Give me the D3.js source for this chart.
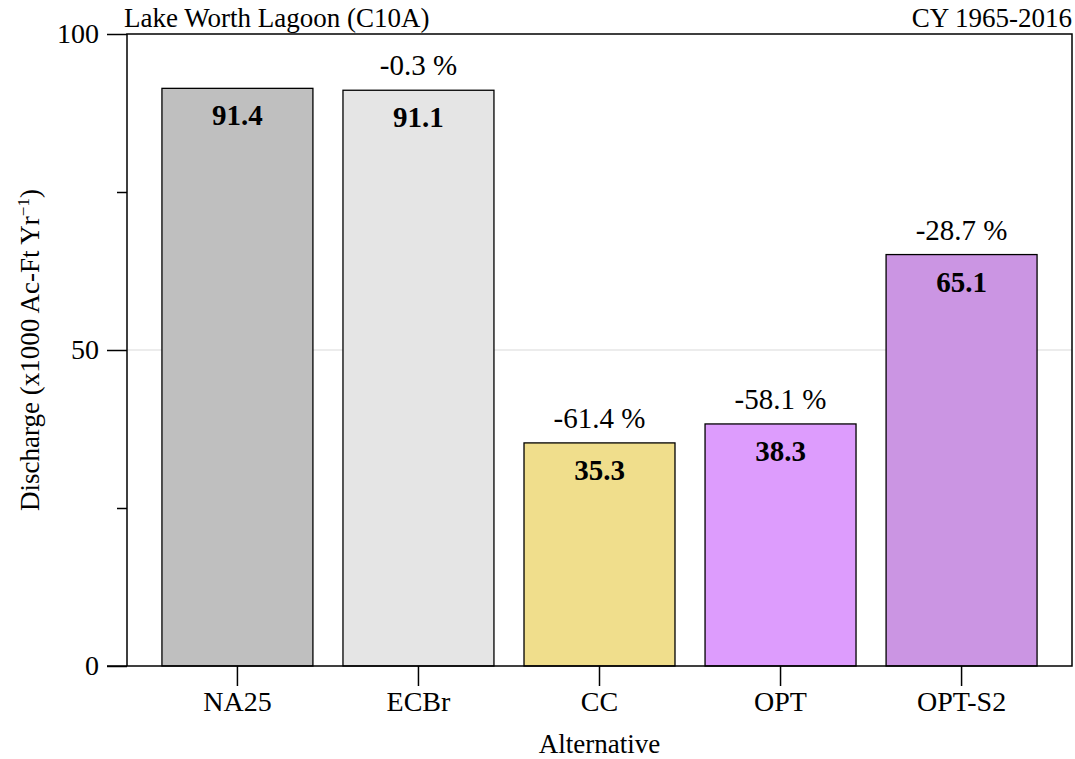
<!DOCTYPE html>
<html>
<head>
<meta charset="utf-8">
<script src="https://cdn.jsdelivr.net/npm/d3@7"></script>
<style>
  body { margin: 0; background: #fff; }
  text { font-family: "Liberation Serif", "Times New Roman", serif; fill: #000; }
</style>
</head>
<body>
<div id="chart"></div>
<script>
let svgWidth = 1075;
let svgHeight = 759;

let margin = { top: 34, right: 3, bottom: 93, left: 127 };
let width = svgWidth - margin.left - margin.right;
let height = svgHeight - margin.top - margin.bottom;

// data
let alternatives = ["NA25", "ECBr", "CC", "OPT", "OPT-S2"];
let discharge = [91.4, 91.1, 35.3, 38.3, 65.1];
let pctChange = [null, "-0.3 %", "-61.4 %", "-58.1 %", "-28.7 %"];
let barColors = ["#bfbfbf", "#e5e5e5", "#f0de8c", "#dd9cfd", "#cb95e3"];
let majorTicks = [0, 50, 100];
let minorTicks = [25, 75];

let svg = d3.select("#chart")
  .append("svg")
  .attr("width", svgWidth)
  .attr("height", svgHeight);

let chartGroup = svg.append("g")
  .attr("transform", `translate(${margin.left}, ${margin.top})`);

let xScale = d3.scaleBand()
  .domain(alternatives)
  .range([0, width])
  .paddingInner(0.166)
  .paddingOuter(0.193);

let yScale = d3.scaleLinear()
  .domain([0, 100])
  .range([height, 0]);

// gridline at 50
chartGroup.append("line")
  .attr("x1", 0).attr("x2", width)
  .attr("y1", yScale(50)).attr("y2", yScale(50))
  .attr("stroke", "#d9d9d9")
  .attr("stroke-width", 1);

let rows = alternatives.map((a, i) => ({ alt: a, val: discharge[i], pct: pctChange[i], color: barColors[i] }));

// bars
chartGroup.selectAll("rect.bar")
  .data(rows)
  .enter()
  .append("rect")
  .attr("class", "bar")
  .attr("x", d => xScale(d.alt))
  .attr("y", d => yScale(d.val))
  .attr("width", xScale.bandwidth())
  .attr("height", d => height - yScale(d.val))
  .attr("fill", d => d.color)
  .attr("stroke", "#000")
  .attr("stroke-width", 1.3);

// value labels inside bars
chartGroup.selectAll("text.val")
  .data(rows)
  .enter()
  .append("text")
  .attr("class", "val")
  .attr("x", d => xScale(d.alt) + xScale.bandwidth() / 2)
  .attr("y", d => yScale(d.val) + 37)
  .attr("text-anchor", "middle")
  .style("font-size", "29px")
  .style("font-weight", "bold")
  .text(d => d.val.toFixed(1));

// percent change labels above bars
chartGroup.selectAll("text.pct")
  .data(rows.filter(d => d.pct))
  .enter()
  .append("text")
  .attr("class", "pct")
  .attr("x", d => xScale(d.alt) + xScale.bandwidth() / 2)
  .attr("y", d => yScale(d.val) - 15)
  .attr("text-anchor", "middle")
  .style("font-size", "29px")
  .text(d => d.pct);

// plot box
chartGroup.append("rect")
  .attr("x", 0).attr("y", 0)
  .attr("width", width).attr("height", height)
  .attr("fill", "none")
  .attr("stroke", "#000")
  .attr("stroke-width", 1.5);

// y axis
let yAxis = chartGroup.append("g")
  .call(d3.axisLeft(yScale).tickValues(majorTicks).tickSize(20).tickPadding(8));
yAxis.select(".domain").remove();
yAxis.selectAll("line").attr("stroke-width", 1.5);
yAxis.selectAll("text")
  .style("font-family", "Liberation Serif, serif")
  .style("font-size", "28px");

let yMinor = chartGroup.append("g")
  .call(d3.axisLeft(yScale).tickValues(minorTicks).tickSize(10).tickFormat(""));
yMinor.select(".domain").remove();
yMinor.selectAll("line").attr("stroke-width", 1.5);

// x axis
let xAxis = chartGroup.append("g")
  .attr("transform", `translate(0, ${height})`)
  .call(d3.axisBottom(xScale).tickSize(20).tickPadding(5));
xAxis.select(".domain").remove();
xAxis.selectAll("line").attr("stroke-width", 1.5);
xAxis.selectAll("text")
  .style("font-family", "Liberation Serif, serif")
  .style("font-size", "28px");

// bottom axis line stretches left to the y tick
chartGroup.append("line")
  .attr("x1", -20).attr("x2", 0)
  .attr("y1", height).attr("y2", height)
  .attr("stroke", "#000").attr("stroke-width", 1.5);

// titles
svg.append("text")
  .attr("x", margin.left - 3)
  .attr("y", 27)
  .style("font-size", "27px")
  .text("Lake Worth Lagoon (C10A)");

svg.append("text")
  .attr("x", margin.left + width)
  .attr("y", 27)
  .attr("text-anchor", "end")
  .style("font-size", "27px")
  .text("CY 1965-2016");

svg.append("text")
  .attr("x", margin.left + width / 2)
  .attr("y", 753)
  .attr("text-anchor", "middle")
  .style("font-size", "27px")
  .text("Alternative");

let yTitle = svg.append("text")
  .attr("transform", `translate(39, ${margin.top + height / 2}) rotate(-90)`)
  .attr("text-anchor", "middle")
  .style("font-size", "27px");
yTitle.append("tspan").text("Discharge (x1000 Ac-Ft Yr");
yTitle.append("tspan").attr("dy", -10).style("font-size", "17px").text("\u22121");
yTitle.append("tspan").attr("dy", 10).text(")");
</script>
</body>
</html>
